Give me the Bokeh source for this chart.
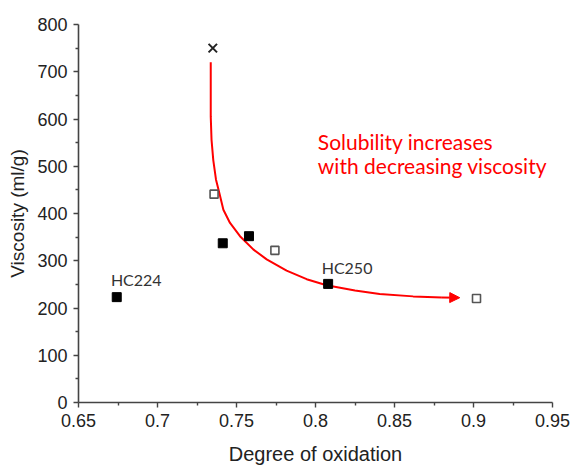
from bokeh.plotting import figure
from bokeh.models import Range1d, FixedTicker, Arrow, NormalHead, Label
from bokeh.embed import file_html
from bokeh.resources import INLINE

# --- data ---
filled_x = [0.6742, 0.7413, 0.7579, 0.8080]
filled_y = [223, 337, 352, 251]
open_x = [0.7358, 0.7743, 0.9019]
open_y = [441, 322, 220]
cross_x = [0.7350]
cross_y = [750]

# trend curve (annotation)
curve_x = [0.7337, 0.7337, 0.7342, 0.7353, 0.7370, 0.7391, 0.7417, 0.7459, 0.7522,
           0.7606, 0.7691, 0.7817, 0.7944, 0.8070, 0.8250, 0.8406, 0.8618, 0.8800]
curve_y = [720, 605, 556, 513, 472, 444, 408, 380, 352,
           324, 303, 279, 261, 248, 237, 229.5, 224.6, 222.2]
arrow_x = [0.8800, 0.8913]
arrow_y = [222.2, 221.8]

x_ticks = [0.65, 0.7, 0.75, 0.8, 0.85, 0.9, 0.95]
x_tick_labels = ["0.65", "0.7", "0.75", "0.8", "0.85", "0.9", "0.95"]
x_minor = [0.675, 0.725, 0.775, 0.825, 0.875, 0.925]
y_ticks = [0, 100, 200, 300, 400, 500, 600, 700, 800]
y_minor = [50, 150, 250, 350, 450, 550, 650, 750]

point_labels = ["HC224", "HC250"]
point_label_x = [0.6705, 0.8039]
point_label_y = [260, 286]
note_lines = ["Solubility increases", "with decreasing viscosity"]
note_x = 0.8015
note_y = [552, 502]

p = figure(width=574, height=467, output_backend="svg", toolbar_location=None,
           x_range=Range1d(0.65, 0.95), y_range=Range1d(0, 800),
           min_border_left=78, min_border_right=22, min_border_top=24, min_border_bottom=63)
p.outline_line_color = None
p.grid.visible = False
p.background_fill_color = "white"
p.border_fill_color = "white"

for ax in (p.xaxis[0], p.yaxis[0]):
    ax.axis_line_color = "#444444"
    ax.axis_line_width = 1.6
    ax.major_tick_line_color = "#444444"
    ax.minor_tick_line_color = "#444444"
    ax.major_tick_line_width = 1.4
    ax.minor_tick_line_width = 1.4
    ax.major_tick_out = 5
    ax.major_tick_in = 0
    ax.minor_tick_out = 3
    ax.minor_tick_in = 0
    ax.major_label_text_font = "Liberation Sans"
    ax.major_label_text_font_size = "18px"
    ax.major_label_text_color = "#222222"
    ax.axis_label_text_font = "Liberation Sans"
    ax.axis_label_text_font_style = "normal"
    ax.axis_label_text_color = "#222222"

p.xaxis.axis_label_text_font_size = "20px"
p.yaxis.axis_label_text_font_size = "19px"
p.xaxis.ticker = FixedTicker(ticks=x_ticks, minor_ticks=x_minor)
p.xaxis.major_label_overrides = {t: l for t, l in zip(x_ticks, x_tick_labels)}
p.yaxis.ticker = FixedTicker(ticks=y_ticks, minor_ticks=y_minor)
p.xaxis.axis_label = "Degree of oxidation"
p.yaxis.axis_label = "Viscosity (ml/g)"
p.xaxis.major_label_standoff = 6
p.yaxis.major_label_standoff = 6
p.xaxis.axis_label_standoff = 13
p.yaxis.axis_label_standoff = 6

# curve
p.line(curve_x, curve_y, line_color="#ff0000", line_width=2)
p.add_layout(Arrow(end=NormalHead(size=10, fill_color="#ff0000", line_color="#ff0000"),
                   x_start=arrow_x[0], y_start=arrow_y[0], x_end=arrow_x[1], y_end=arrow_y[1],
                   line_color="#ff0000", line_width=2))

# points
p.scatter(filled_x, filled_y, marker="square", size=9, fill_color="black", line_color="black")
p.scatter(open_x, open_y, marker="square", size=8, fill_color="white", line_color="#555555", line_width=1.6)
p.scatter(cross_x, cross_y, marker="x", size=12, line_color="#222222", line_width=2)

for t, x, y in zip(point_labels, point_label_x, point_label_y):
    p.add_layout(Label(x=x, y=y, text=t, text_font="Lato", text_font_size="16px",
                       text_color="#333333", text_baseline="alphabetic"))
for t, y in zip(note_lines, note_y):
    p.add_layout(Label(x=note_x, y=y, text=t, text_font="Lato", text_font_size="21px",
                       text_color="#ff0000", text_baseline="alphabetic"))

open("out.html", "w").write(file_html(p, INLINE))
